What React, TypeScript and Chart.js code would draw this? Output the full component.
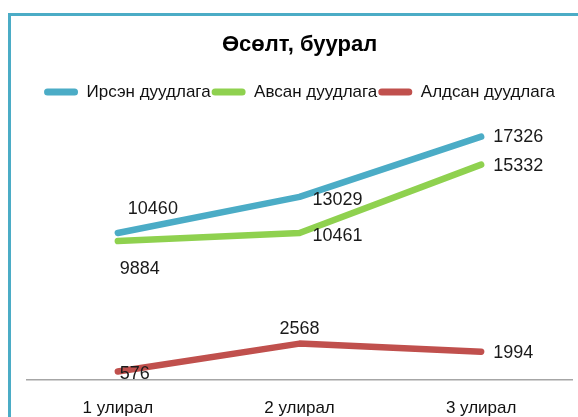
import React, { useEffect, useRef } from "react";
import { Chart, registerables } from "chart.js";

Chart.register(...registerables);

const categories = ["1 улирал", "2 улирал", "3 улирал"];
const seriesNames = ["Ирсэн дуудлага", "Авсан дуудлага", "Алдсан дуудлага"];
const incoming = [10460, 13029, 17326];
const answered = [9884, 10461, 15332];
const missed = [576, 2568, 1994];
const chartTitle = "Өсөлт, буурал";
const yMax = 19200;

const colors = ["#4BACC6", "#8FD14F", "#C0504D"];
// label offsets (left edge of text relative to point), per series, per point
const labelOffsets = [
  [[10, -24], [13, 3], [12, 0]],
  [[2, 28], [13, 3], [12, 1]],
  [[2, 3], [-20, -15], [12, 1]],
];

const FONT = "'Liberation Sans', Arial, sans-serif";

const labelPlugin = {
  id: "valueLabels",
  afterDatasetsDraw(chart: any) {
    const ctx = chart.ctx;
    ctx.save();
    ctx.font = `18px ${FONT}`;
    ctx.fillStyle = "#1a1a1a";
    ctx.textAlign = "left";
    ctx.textBaseline = "middle";
    chart.data.datasets.forEach((ds: any, i: number) => {
      const meta = chart.getDatasetMeta(i);
      meta.data.forEach((pt: any, j: number) => {
        const [dx, dy] = labelOffsets[i][j];
        ctx.fillText(String(ds.data[j]), pt.x + dx, pt.y + dy);
      });
    });
    ctx.restore();
  },
};

export default function App() {
  const ref = useRef<HTMLCanvasElement>(null);
  useEffect(() => {
    if (!ref.current) return;
    const series = [incoming, answered, missed];
    const chart = new Chart(ref.current, {
      type: "line",
      data: {
        labels: categories,
        datasets: series.map((d, i) => ({
          label: seriesNames[i],
          data: d,
          borderColor: colors[i],
          backgroundColor: colors[i],
          borderWidth: 6.5,
          borderCapStyle: "round" as const,
          borderJoinStyle: "round" as const,
          pointRadius: 0,
          tension: 0,
        })),
      },
      options: {
        responsive: false,
        animation: false,
        layout: { padding: { left: 27, right: 6, top: 32, bottom: 0 } },
        plugins: {
          title: {
            display: true,
            text: chartTitle,
            color: "#000",
            font: { family: FONT, size: 22, weight: "bold" },
            padding: { top: 0, bottom: 24 },
          },
          legend: {
            display: true,
            position: "top",
            labels: {
              color: "#111",
              font: { family: FONT, size: 17 },
              boxWidth: 34,
              boxHeight: 7,
              useBorderRadius: true,
              borderRadius: 3.5,
              padding: 1,
              generateLabels(chart: any) {
                const items = Chart.defaults.plugins.legend.labels.generateLabels(chart);
                return items.map((it: any) => ({ ...it, lineWidth: 0, strokeStyle: "transparent" }));
              },
            },
          },
          tooltip: { enabled: false },
        },
        scales: {
          x: {
            offset: true,
            grid: { display: false, drawTicks: false },
            border: { display: true, color: "#A6A6A6", width: 1.5 },
            ticks: {
              color: "#111",
              font: { family: FONT, size: 17 },
              padding: 19,
            },
          },
          y: {
            display: false,
            min: 0,
            max: yMax,
          },
        },
      },
      plugins: [labelPlugin],
    });
    return () => chart.destroy();
  }, []);
  return (
    <div
      style={{
        position: "fixed",
        left: 0,
        top: 0,
        width: 578,
        height: 417,
        overflow: "hidden",
        background: "#fff",
      }}
    >
      <div
        style={{
          position: "absolute",
          left: 8,
          top: 13,
          width: 700,
          height: 600,
          borderTop: "3px solid #4BACC6",
          borderLeft: "3px solid #4BACC6",
        }}
      />
      <canvas
        ref={ref}
        width={578}
        height={438}
        style={{ position: "absolute", left: 0, top: 0, width: 578, height: 438 }}
      />
    </div>
  );
}
